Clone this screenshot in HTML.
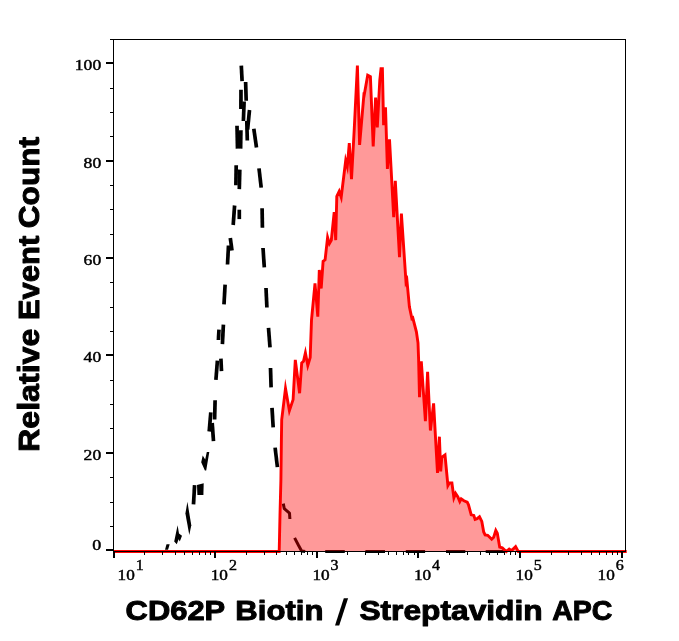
<!DOCTYPE html>
<html><head><meta charset="utf-8"><title>CD62P Biotin / Streptavidin APC</title>
<style>html,body{margin:0;padding:0;background:#fff;}body{width:679px;height:641px;overflow:hidden;font-family:"Liberation Sans",sans-serif;}svg{display:block;will-change:transform;}.tk{font-family:"Liberation Serif",serif;font-size:14px;fill:#000;stroke:#000;stroke-width:0.42;}.ttl{font-family:"Liberation Sans",sans-serif;font-weight:bold;font-size:28.5px;fill:#000;stroke:#000;stroke-width:1;stroke-linejoin:round;}</style></head><body>
<svg width="679" height="641" viewBox="0 0 679 641">
<rect x="0" y="0" width="679" height="641" fill="#ffffff"/>
<g id="ctrl" stroke="#000" stroke-width="3.7" fill="none" stroke-linecap="butt">
<line x1="241.3" y1="65.6" x2="242.1" y2="81.2"/>
<line x1="245.6" y1="82.0" x2="246.2" y2="100.7"/>
<line x1="241.0" y1="89.8" x2="240.9" y2="109.0"/>
<line x1="244.1" y1="101.5" x2="243.4" y2="121.0"/>
<line x1="249.5" y1="110.0" x2="247.6" y2="129.6"/>
<line x1="246.8" y1="121.0" x2="247.3" y2="140.5"/>
<line x1="253.8" y1="128.8" x2="256.5" y2="147.5"/>
<line x1="237.0" y1="125.7" x2="237.5" y2="148.6"/>
<line x1="240.9" y1="130.3" x2="240.6" y2="148.6"/>
<line x1="236.2" y1="165.3" x2="235.9" y2="185.2"/>
<line x1="239.8" y1="169.6" x2="239.3" y2="189.1"/>
<line x1="259.0" y1="168.4" x2="261.2" y2="187.6"/>
<line x1="234.6" y1="205.5" x2="233.2" y2="225.0"/>
<line x1="239.3" y1="209.7" x2="239.3" y2="219.1"/>
<line x1="262.1" y1="208.2" x2="262.4" y2="227.7"/>
<line x1="230.3" y1="238.0" x2="232.0" y2="250.5"/>
<line x1="228.5" y1="245.5" x2="227.5" y2="264.5"/>
<line x1="263.0" y1="248.0" x2="264.3" y2="267.4"/>
<line x1="225.1" y1="284.6" x2="224.0" y2="304.4"/>
<line x1="266.0" y1="288.0" x2="266.9" y2="307.5"/>
<line x1="223.4" y1="324.7" x2="222.4" y2="344.2"/>
<line x1="219.0" y1="329.7" x2="218.4" y2="340.0"/>
<line x1="268.5" y1="327.8" x2="270.0" y2="347.3"/>
<line x1="217.4" y1="360.6" x2="215.9" y2="379.8"/>
<line x1="220.9" y1="358.7" x2="221.5" y2="371.2"/>
<line x1="270.5" y1="368.0" x2="271.1" y2="387.4"/>
<line x1="215.1" y1="400.3" x2="214.6" y2="419.5"/>
<line x1="210.8" y1="412.3" x2="209.2" y2="431.5"/>
<line x1="212.2" y1="423.0" x2="213.5" y2="441.2"/>
<line x1="272.0" y1="407.8" x2="273.2" y2="427.3"/>
<line x1="275.1" y1="447.6" x2="277.4" y2="467.1"/>
<line x1="194.6" y1="485.2" x2="193.5" y2="504.4"/>
</g>
<g fill="#000" stroke="none">
<polygon points="206.8,452.1 209.3,452.1 206.2,470.5 204.9,470.5 201.2,462.3 202.7,455.6 205.2,459.6"/>
<polygon points="197.0,484.9 203.7,483.3 203.4,495.0 197.4,495.0"/>
<polygon points="187.4,501.8 185.4,513.6 189.3,534.9 191.3,525.3"/>
<polygon points="177.6,525.3 174.2,541.5 176.8,544.2 178.6,539.3 179.8,541.5 182.0,535.7 179.0,533.4"/>
<polygon points="166.5,544.2 169.7,544.2 168.0,549.8 165.0,549.8"/>
</g>
<g stroke="#000" stroke-width="3" fill="none" stroke-linecap="butt" stroke-linejoin="round">
<polyline points="283.3,503.6 284.3,508.7 289.5,513.1 289.9,519"/>
<polyline points="294.6,537.9 298.6,545.5 301.6,550.9 305.2,551.5"/>
<line x1="325.2" y1="551.5" x2="344.8" y2="551.5"/>
<line x1="365.4" y1="551.5" x2="385.0" y2="551.5"/>
<line x1="405.8" y1="551.5" x2="425.1" y2="551.5"/>
<line x1="446.0" y1="551.5" x2="465.3" y2="551.5"/>
<line x1="485.7" y1="551.5" x2="505.2" y2="551.5"/>
<line x1="525.6" y1="551.5" x2="545.0" y2="551.5"/>
<line x1="565.7" y1="551.5" x2="585.2" y2="551.5"/>
<line x1="605.7" y1="551.5" x2="625.0" y2="551.5"/>
</g>
<polygon fill="#ff0000" fill-opacity="0.4" stroke="none" points="279.2,551.5 280.0,515.0 280.9,480.0 281.4,440.0 281.7,419.8 285.5,388.4 289.4,410.7 293.1,399.6 295.3,359.9 299.6,393.2 301.7,362.9 303.5,361.3 305.4,352.9 307.8,365.4 310.2,357.4 311.5,320.0 315.0,283.3 317.8,316.6 319.3,270.0 321.2,288.5 323.1,261.3 325.1,259.8 327.6,237.4 329.4,243.6 331.3,240.3 334.2,212.1 335.7,240.2 336.8,196.4 339.2,191.3 341.2,197.2 345.7,160.6 347.3,166.6 349.3,143.2 351.5,179.2 354.2,130.0 357.4,65.5 359.6,144.9 364.1,92.4 364.3,94.4 367.7,75.2 370.4,76.6 373.2,146.4 375.6,97.6 377.3,127.3 379.8,80.0 381.0,68.7 382.4,68.7 383.6,125.2 385.5,107.3 387.4,168.9 389.5,139.4 393.7,217.2 395.3,180.9 399.5,257.1 401.4,213.6 406.0,282.0 406.9,280.1 409.4,306.8 411.9,318.5 412.8,317.9 416.4,331.8 418.0,342.8 418.6,359.1 419.5,397.2 421.3,361.4 425.4,421.2 427.6,371.7 430.4,430.5 433.6,403.4 437.5,473.0 439.4,436.7 440.7,471.4 441.8,457.3 445.0,455.0 447.9,485.5 449.3,483.0 451.9,483.0 453.9,497.7 455.6,493.4 457.9,496.9 459.8,501.5 461.2,498.9 463.9,500.8 467.2,502.2 468.5,504.8 471.2,514.8 473.8,515.4 475.1,519.4 477.1,518.7 479.5,516.8 481.8,521.4 483.7,532.0 485.1,534.9 487.7,535.3 491.7,539.3 493.7,537.3 495.8,530.5 497.3,533.3 499.7,547.2 502.3,547.9 506.3,551.5 509.2,549.0 511.6,550.6 515.6,546.6 518.2,551.5 518.2,551.0 279.2,551.0"/>
<polyline fill="none" stroke="#ff0000" stroke-width="2.9" stroke-linejoin="miter" stroke-miterlimit="10" points="113.8,551.5 279.2,551.5 280.0,515.0 280.9,480.0 281.4,440.0 281.7,419.8 285.5,388.4 289.4,410.7 293.1,399.6 295.3,359.9 299.6,393.2 301.7,362.9 303.5,361.3 305.4,352.9 307.8,365.4 310.2,357.4 311.5,320.0 315.0,283.3 317.8,316.6 319.3,270.0 321.2,288.5 323.1,261.3 325.1,259.8 327.6,237.4 329.4,243.6 331.3,240.3 334.2,212.1 335.7,240.2 336.8,196.4 339.2,191.3 341.2,197.2 345.7,160.6 347.3,166.6 349.3,143.2 351.5,179.2 354.2,130.0 357.4,65.5 359.6,144.9 364.1,92.4 364.3,94.4 367.7,75.2 370.4,76.6 373.2,146.4 375.6,97.6 377.3,127.3 379.8,80.0 381.0,68.7 382.4,68.7 383.6,125.2 385.5,107.3 387.4,168.9 389.5,139.4 393.7,217.2 395.3,180.9 399.5,257.1 401.4,213.6 406.0,282.0 406.9,280.1 409.4,306.8 411.9,318.5 412.8,317.9 416.4,331.8 418.0,342.8 418.6,359.1 419.5,397.2 421.3,361.4 425.4,421.2 427.6,371.7 430.4,430.5 433.6,403.4 437.5,473.0 439.4,436.7 440.7,471.4 441.8,457.3 445.0,455.0 447.9,485.5 449.3,483.0 451.9,483.0 453.9,497.7 455.6,493.4 457.9,496.9 459.8,501.5 461.2,498.9 463.9,500.8 467.2,502.2 468.5,504.8 471.2,514.8 473.8,515.4 475.1,519.4 477.1,518.7 479.5,516.8 481.8,521.4 483.7,532.0 485.1,534.9 487.7,535.3 491.7,539.3 493.7,537.3 495.8,530.5 497.3,533.3 499.7,547.2 502.3,547.9 506.3,551.5 509.2,549.0 511.6,550.6 515.6,546.6 518.2,551.5 626.7,551.5"/>
<g stroke="#000" fill="none" shape-rendering="crispEdges">
<rect x="113.5" y="39.5" width="512.0" height="512.0" stroke-width="1"/>
<rect x="106" y="549" width="7" height="2" fill="#000" stroke="none"/>
<rect x="110" y="526" width="3" height="1" fill="#000" stroke="none"/>
<rect x="110" y="502" width="3" height="1" fill="#000" stroke="none"/>
<rect x="110" y="477" width="3" height="1" fill="#000" stroke="none"/>
<rect x="106" y="452" width="7" height="2" fill="#000" stroke="none"/>
<rect x="110" y="428" width="3" height="1" fill="#000" stroke="none"/>
<rect x="110" y="404" width="3" height="1" fill="#000" stroke="none"/>
<rect x="110" y="380" width="3" height="1" fill="#000" stroke="none"/>
<rect x="106" y="354" width="7" height="2" fill="#000" stroke="none"/>
<rect x="110" y="331" width="3" height="1" fill="#000" stroke="none"/>
<rect x="110" y="307" width="3" height="1" fill="#000" stroke="none"/>
<rect x="110" y="282" width="3" height="1" fill="#000" stroke="none"/>
<rect x="106" y="257" width="7" height="2" fill="#000" stroke="none"/>
<rect x="110" y="234" width="3" height="1" fill="#000" stroke="none"/>
<rect x="110" y="209" width="3" height="1" fill="#000" stroke="none"/>
<rect x="110" y="185" width="3" height="1" fill="#000" stroke="none"/>
<rect x="106" y="160" width="7" height="2" fill="#000" stroke="none"/>
<rect x="110" y="136" width="3" height="1" fill="#000" stroke="none"/>
<rect x="110" y="112" width="3" height="1" fill="#000" stroke="none"/>
<rect x="110" y="88" width="3" height="1" fill="#000" stroke="none"/>
<rect x="106" y="62" width="7" height="2" fill="#000" stroke="none"/>
<rect x="110" y="39" width="3" height="1" fill="#000" stroke="none"/>
<rect x="113" y="552" width="2" height="6" fill="#000" stroke="none"/>
<rect x="144" y="552" width="1" height="3" fill="#000" stroke="none"/>
<rect x="162" y="552" width="1" height="3" fill="#000" stroke="none"/>
<rect x="175" y="552" width="1" height="3" fill="#000" stroke="none"/>
<rect x="184" y="552" width="1" height="3" fill="#000" stroke="none"/>
<rect x="192" y="552" width="1" height="3" fill="#000" stroke="none"/>
<rect x="199" y="552" width="1" height="3" fill="#000" stroke="none"/>
<rect x="205" y="552" width="1" height="3" fill="#000" stroke="none"/>
<rect x="210" y="552" width="1" height="3" fill="#000" stroke="none"/>
<rect x="214" y="552" width="2" height="6" fill="#000" stroke="none"/>
<rect x="246" y="552" width="1" height="3" fill="#000" stroke="none"/>
<rect x="264" y="552" width="1" height="3" fill="#000" stroke="none"/>
<rect x="276" y="552" width="1" height="3" fill="#000" stroke="none"/>
<rect x="286" y="552" width="1" height="3" fill="#000" stroke="none"/>
<rect x="294" y="552" width="1" height="3" fill="#000" stroke="none"/>
<rect x="301" y="552" width="1" height="3" fill="#000" stroke="none"/>
<rect x="307" y="552" width="1" height="3" fill="#000" stroke="none"/>
<rect x="312" y="552" width="1" height="3" fill="#000" stroke="none"/>
<rect x="316" y="552" width="2" height="6" fill="#000" stroke="none"/>
<rect x="347" y="552" width="1" height="3" fill="#000" stroke="none"/>
<rect x="365" y="552" width="1" height="3" fill="#000" stroke="none"/>
<rect x="378" y="552" width="1" height="3" fill="#000" stroke="none"/>
<rect x="388" y="552" width="1" height="3" fill="#000" stroke="none"/>
<rect x="396" y="552" width="1" height="3" fill="#000" stroke="none"/>
<rect x="403" y="552" width="1" height="3" fill="#000" stroke="none"/>
<rect x="408" y="552" width="1" height="3" fill="#000" stroke="none"/>
<rect x="414" y="552" width="1" height="3" fill="#000" stroke="none"/>
<rect x="417" y="552" width="2" height="6" fill="#000" stroke="none"/>
<rect x="449" y="552" width="1" height="3" fill="#000" stroke="none"/>
<rect x="467" y="552" width="1" height="3" fill="#000" stroke="none"/>
<rect x="480" y="552" width="1" height="3" fill="#000" stroke="none"/>
<rect x="489" y="552" width="1" height="3" fill="#000" stroke="none"/>
<rect x="497" y="552" width="1" height="3" fill="#000" stroke="none"/>
<rect x="504" y="552" width="1" height="3" fill="#000" stroke="none"/>
<rect x="510" y="552" width="1" height="3" fill="#000" stroke="none"/>
<rect x="515" y="552" width="1" height="3" fill="#000" stroke="none"/>
<rect x="519" y="552" width="2" height="6" fill="#000" stroke="none"/>
<rect x="551" y="552" width="1" height="3" fill="#000" stroke="none"/>
<rect x="568" y="552" width="1" height="3" fill="#000" stroke="none"/>
<rect x="581" y="552" width="1" height="3" fill="#000" stroke="none"/>
<rect x="591" y="552" width="1" height="3" fill="#000" stroke="none"/>
<rect x="599" y="552" width="1" height="3" fill="#000" stroke="none"/>
<rect x="606" y="552" width="1" height="3" fill="#000" stroke="none"/>
<rect x="612" y="552" width="1" height="3" fill="#000" stroke="none"/>
<rect x="617" y="552" width="1" height="3" fill="#000" stroke="none"/>
<rect x="621" y="552" width="2" height="6" fill="#000" stroke="none"/>
</g>
<text class="tk" x="74.8" y="69.9" text-anchor="start" textLength="26.4" lengthAdjust="spacingAndGlyphs">100</text>
<text class="tk" x="83.6" y="167.9" text-anchor="start" textLength="17.6" lengthAdjust="spacingAndGlyphs">80</text>
<text class="tk" x="83.6" y="264.9" text-anchor="start" textLength="17.6" lengthAdjust="spacingAndGlyphs">60</text>
<text class="tk" x="83.6" y="361.9" text-anchor="start" textLength="17.6" lengthAdjust="spacingAndGlyphs">40</text>
<text class="tk" x="83.6" y="459.9" text-anchor="start" textLength="17.6" lengthAdjust="spacingAndGlyphs">20</text>
<text class="tk" x="92.2" y="549.8" text-anchor="start" textLength="9.0" lengthAdjust="spacingAndGlyphs">0</text>
<text class="tk" x="117.6" y="580.0" text-anchor="start" textLength="17.2" lengthAdjust="spacingAndGlyphs">10</text>
<text class="tk" x="135.8" y="569.6" text-anchor="start" textLength="8.0" lengthAdjust="spacingAndGlyphs">1</text>
<text class="tk" x="210.7" y="580.0" text-anchor="start" textLength="17.2" lengthAdjust="spacingAndGlyphs">10</text>
<text class="tk" x="228.9" y="569.6" text-anchor="start" textLength="8.0" lengthAdjust="spacingAndGlyphs">2</text>
<text class="tk" x="312.4" y="580.0" text-anchor="start" textLength="17.2" lengthAdjust="spacingAndGlyphs">10</text>
<text class="tk" x="330.6" y="569.6" text-anchor="start" textLength="8.0" lengthAdjust="spacingAndGlyphs">3</text>
<text class="tk" x="413.9" y="580.0" text-anchor="start" textLength="17.2" lengthAdjust="spacingAndGlyphs">10</text>
<text class="tk" x="432.1" y="569.6" text-anchor="start" textLength="8.0" lengthAdjust="spacingAndGlyphs">4</text>
<text class="tk" x="515.6" y="580.0" text-anchor="start" textLength="17.2" lengthAdjust="spacingAndGlyphs">10</text>
<text class="tk" x="533.8" y="569.6" text-anchor="start" textLength="8.0" lengthAdjust="spacingAndGlyphs">5</text>
<text class="tk" x="597.6" y="580.0" text-anchor="start" textLength="17.2" lengthAdjust="spacingAndGlyphs">10</text>
<text class="tk" x="615.8" y="569.6" text-anchor="start" textLength="8.0" lengthAdjust="spacingAndGlyphs">6</text>
<text class="ttl" x="125.60" y="620.4" textLength="99.60" lengthAdjust="spacingAndGlyphs">CD62P</text>
<text class="ttl" x="235.30" y="620.4" textLength="88.10" lengthAdjust="spacingAndGlyphs">Biotin</text>
<text class="ttl" x="359.40" y="620.4" textLength="183.30" lengthAdjust="spacingAndGlyphs">Streptavidin</text>
<text class="ttl" x="552.20" y="620.4" textLength="60.30" lengthAdjust="spacingAndGlyphs">APC</text>
<polygon fill="#000" points="343.8,598.3 348.1,598.3 339.2,625.6 335,625.6"/>
<g transform="translate(38.8,0) rotate(-90)" style="font-size:30.3px">
<text class="ttl" style="font-size:30.3px" x="-452.00" y="0" textLength="123.40" lengthAdjust="spacingAndGlyphs">Relative</text>
<text class="ttl" style="font-size:30.3px" x="-320.00" y="0" textLength="84.20" lengthAdjust="spacingAndGlyphs">Event</text>
<text class="ttl" style="font-size:30.3px" x="-228.20" y="0" textLength="91.20" lengthAdjust="spacingAndGlyphs">Count</text>
</g>
</svg></body></html>
